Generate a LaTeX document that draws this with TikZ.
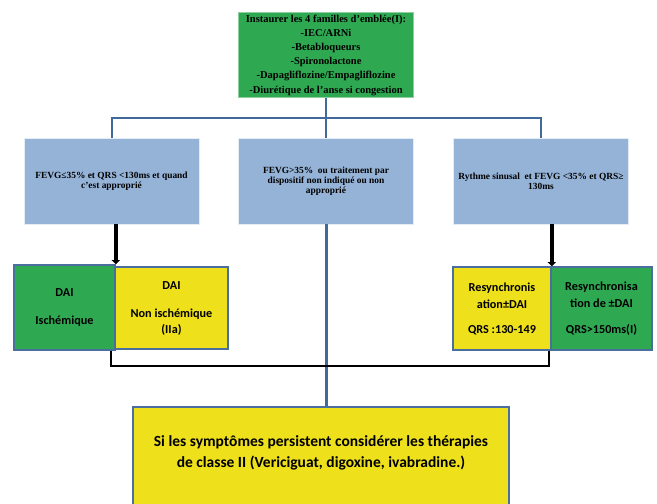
\documentclass[tikz,border=0pt]{standalone}
\usepackage{fontspec}
\setmainfont{Liberation Serif}
\newfontfamily\calib{Carlito}
\usetikzlibrary{arrows.meta, positioning}
\definecolor{boxGreen}{HTML}{2FA852}
\definecolor{boxYellow}{HTML}{EEE01A}
\definecolor{boxBlue}{HTML}{95B3D7}
\definecolor{edgeBlue}{HTML}{4A6E9E}
\definecolor{lineBlue}{HTML}{41699C}
\tikzset{
  topbox/.style    = {rectangle, fill=boxGreen, draw=boxGreen!55!white, line width=0.6pt,
                      minimum width=175pt, minimum height=85pt, inner sep=0pt, align=center,
                      font=\bfseries\fontsize{10.5}{14.2}\selectfont},
  critbox/.style   = {rectangle, fill=boxBlue, draw=boxBlue!25!white, line width=0.8pt,
                      minimum width=175pt, minimum height=86pt, inner sep=1pt, align=center,
                      font=\bfseries\fontsize{9.4}{10.2}\selectfont},
  devbox/.style    = {rectangle, draw=edgeBlue, line width=1.6pt, minimum height=83pt,
                      inner sep=1pt, align=center, font=\calib\bfseries\fontsize{12.2}{17}\selectfont},
  finalbox/.style  = {rectangle, fill=boxYellow, draw=edgeBlue, line width=1.8pt,
                      minimum width=376pt, minimum height=130pt, anchor=north},
  finaltxt/.style  = {align=center, inner sep=0pt, font=\calib\bfseries\fontsize{15.5}{21}\selectfont},
  bluelink/.style  = {lineBlue, line width=2pt},
  blacklink/.style = {black, line width=1.6pt},
  blackarrow/.style= {-{Triangle[length=4pt,width=8pt]}, black, line width=3.6pt},
}

\begin{document}
\begin{tikzpicture}[x=1pt,y=-1pt]
  \useasboundingbox (0,0) rectangle (657,504);
  \node[topbox] (init) at (326,55) {Instaurer les 4 familles d’emblée(I):\\-IEC/ARNi\\-Betabloqueurs\\
    -Spironolactone\\-Dapagliflozine/Empagliflozine\\-Diurétique de l’anse si congestion};
  \foreach \x/\name/\txt in {111.5/fevgA/{FEVG≤35\% et QRS <130ms et quand\\c’est approprié},
      326/fevgB/{FEVG>35\%\ \ ou traitement par\\dispositif non indiqué ou non\\approprié},
      541/fevgC/{Rythme sinusal\ \ et FEVG <35\% et QRS≥\\130ms}} {
    \node[critbox] (\name) at (\x,181) {\txt};
  }
  \node[devbox, fill=boxGreen, minimum width=101pt, minimum height=85pt] (daiI) at (64.5,307.5) {DAI\\[11pt]Ischémique};
  \node[devbox, fill=boxYellow, minimum width=113pt, minimum height=82pt] (daiN) at (171.5,308) {DAI\\[11pt]Non ischémique\\[-1pt](IIa)};
  \node[devbox, fill=boxYellow, minimum width=98pt] (crtA) at (502,308.5) {Resynchronis\\ation±DAI\\[8pt]QRS :130-149};
  \node[devbox, fill=boxGreen, minimum width=101pt] (crtB) at (601.5,308.5) {Resynchronisa\\tion de ±DAI\\[9pt]QRS>150ms(I)};
  \node[finalbox] (final) at (321,406) {};
  \node[finaltxt, below=29pt of final.north] (finalT) {Si les symptômes persistent considérer les thérapies\\
    de classe II (Vericiguat, digoxine, ivabradine.)};

  \coordinate (bus) at (326,118);
  \coordinate (merge) at (326,366);
  \draw[bluelink] (init.south) -- (fevgB.north);
  \draw[bluelink] (fevgA.north) |- (bus) -| (fevgC.north);
  \draw[bluelink, line width=3pt] (fevgB.south) -- (fevgB.south |- final.north);
  \draw[blacklink] ([xshift=-5pt]daiI.south east) |- (merge) -| ([xshift=-3pt]crtA.south east);
  \draw[blackarrow] (fevgA.south -| daiI.north east) -- (daiI.north east);
  \draw[blackarrow] (fevgC.south -| crtA.north east) -- (crtA.north east);
\end{tikzpicture}
\end{document}
